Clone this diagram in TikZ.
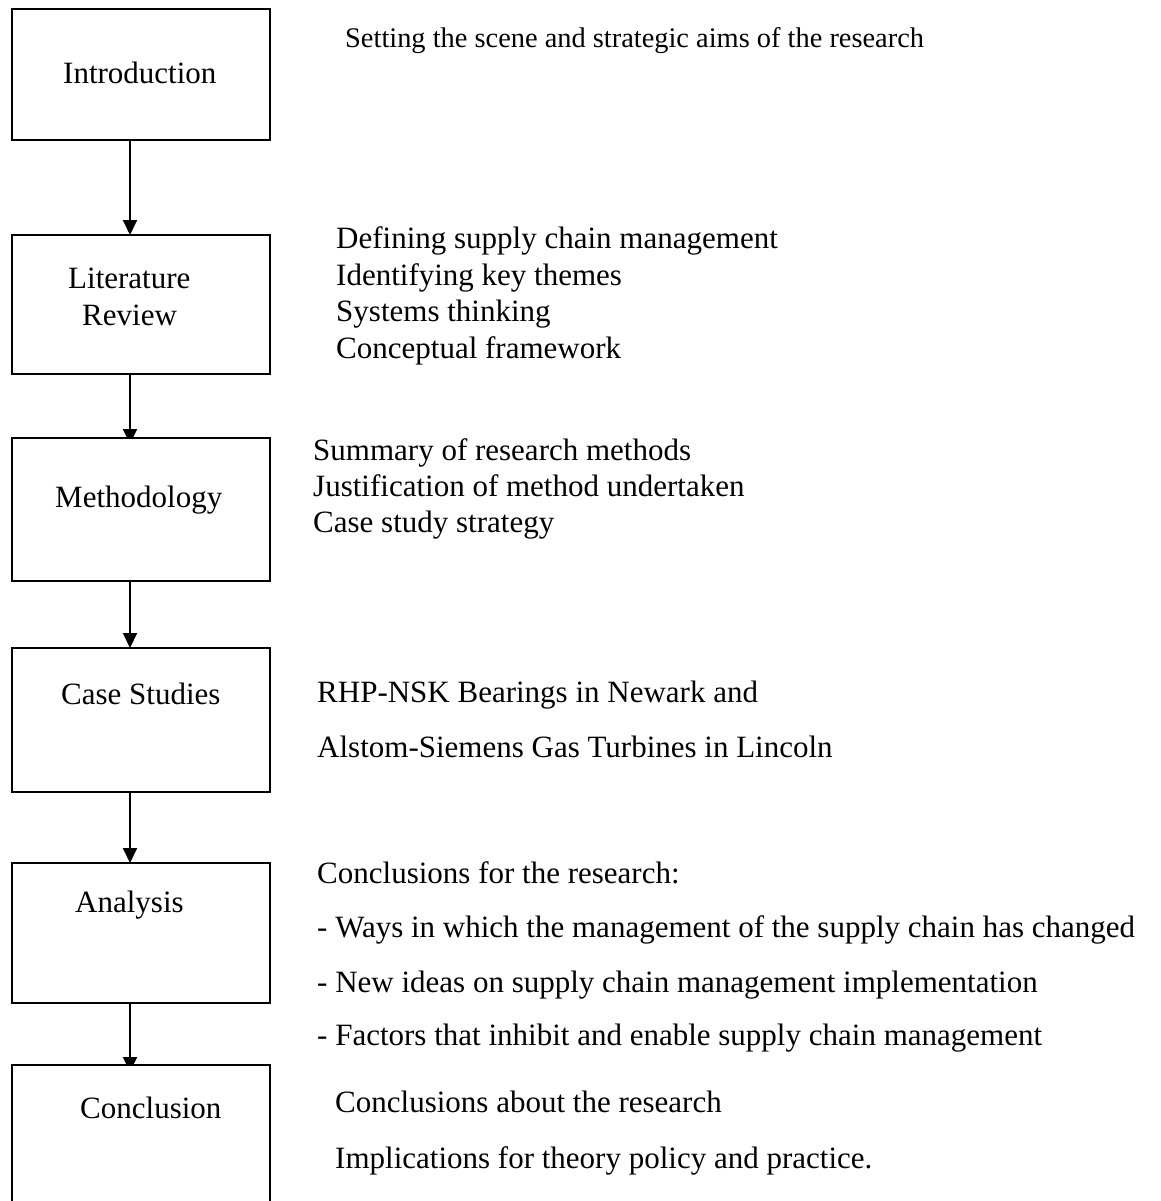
\documentclass[tikz,border=0pt]{standalone}
\usepackage{fontspec}
\setmainfont{Liberation Serif}
\usetikzlibrary{arrows.meta,calc}
\pgfdeclarelayer{paper}
\pgfdeclarelayer{background}
\pgfsetlayers{paper,background,main}
\begin{document}
\begin{tikzpicture}[x=1pt,y=-1pt,
  stagebox/.style={draw=black, line width=2pt, fill=white, inner sep=0pt,
    outer sep=0pt, minimum width=258pt},
  stagelabel/.style={anchor=base west, inner sep=0pt,
    font=\fontsize{31}{37}\selectfont},
  note/.style={anchor=base west, inner sep=0pt,
    font=\fontsize{31}{37}\selectfont},
  smallnote/.style={anchor=base west, inner sep=0pt,
    font=\fontsize{28.4}{34}\selectfont},
  flow/.style={line width=2pt, -{Triangle[width=14pt,length=15pt]}}
]
\useasboundingbox (0,0) rectangle (1160,1201);
\clip (0,0) rectangle (1160,1201);
\begin{pgfonlayer}{paper}
  \fill[white] (0,0) rectangle (1160,1201);
\end{pgfonlayer}

% stage boxes
\node[stagebox, minimum height=131pt] (intro) at (141,74.5) {};
\node[stagebox, minimum height=139pt] (lit)   at (141,304.5) {};
\node[stagebox, minimum height=143pt] (meth)  at (141,509.5) {};
\node[stagebox, minimum height=144pt] (case)  at (141,720) {};
\node[stagebox, minimum height=140pt] (ana)   at (141,933) {};
\node[stagebox, minimum height=150pt] (concl) at (141,1140) {};

% stage names
\node[stagelabel] (introT) at (63,84)   {Introduction};
\node[stagelabel] (litT1)  at (68,288)  {Literature};
\node[stagelabel] (litT2)  at (82,325)  {Review};
\node[stagelabel] (methT)  at (55,507)  {Methodology};
\node[stagelabel] (caseT)  at (61,704)  {Case Studies};
\node[stagelabel] (anaT)   at (75,912)  {Analysis};
\node[stagelabel] (conT)   at (80,1118) {Conclusion};

% connectors, behind the boxes
\coordinate (ax) at (130,0);
\begin{pgfonlayer}{background}
  \draw[flow] (intro.south -| ax) -- (lit.north -| ax);
  \draw[flow] (lit.south -| ax) -- ($(meth.north -| ax)+(0,6)$);
  \draw[flow] (meth.south -| ax) -- (case.north -| ax);
  \draw[flow] (case.south -| ax) -- (ana.north -| ax);
  \draw[flow] (ana.south -| ax) -- ($(concl.north -| ax)+(0,7)$);
\end{pgfonlayer}

% descriptions
\node[smallnote] (set1) at (345,48) {Setting the scene and strategic aims of the research};

\node[note] (lit1) at (336,248) {Defining supply chain management};
\node[note] (lit2) at (336,285) {Identifying key themes};
\node[note] (lit3) at (336,321) {Systems thinking};
\node[note] (lit4) at (336,358) {Conceptual framework};

\node[note] (meth1) at (313,460) {Summary of research methods};
\node[note] (meth2) at (313,496) {Justification of method undertaken};
\node[note] (meth3) at (313,532) {Case study strategy};

\node[note] (case1) at (317,702) {RHP-NSK Bearings in Newark and};
\node[note] (case2) at (317,757) {Alstom-Siemens Gas Turbines in Lincoln};

\node[note] (ana1) at (317,883)  {Conclusions for the research:};
\node[note] (ana2) at (317,937)  {- Ways in which the management of the supply chain has changed};
\node[note] (ana3) at (317,992)  {- New ideas on supply chain management implementation};
\node[note] (ana4) at (317,1045) {- Factors that inhibit and enable supply chain management};

\node[note] (con1) at (335,1112) {Conclusions about the research};
\node[note] (con2) at (335,1168) {Implications for theory policy and practice.};
\end{tikzpicture}
\end{document}
